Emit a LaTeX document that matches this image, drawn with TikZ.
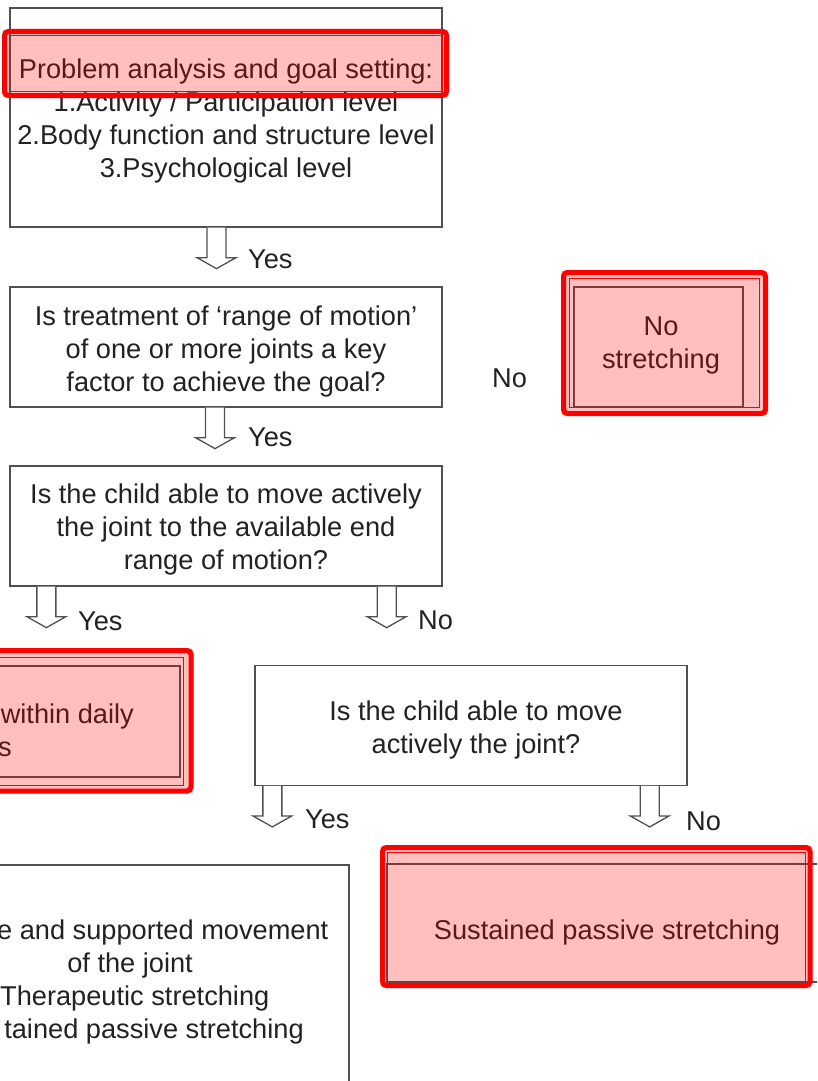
\documentclass[tikz,border=0pt]{standalone}
\usepackage{fontspec}
\setmainfont{Liberation Sans}
\usetikzlibrary{calc}
\definecolor{boxgray}{RGB}{80,80,80}
\definecolor{txtcol}{RGB}{34,34,34}
\newcommand\chartfont{\fontsize{27.2pt}{33pt}\selectfont}
\begin{document}
\begin{tikzpicture}[x=1pt,y=-1pt,
  box/.style={draw=boxgray, line width=1.3pt, fill=white, inner sep=0pt},
  txt/.style={inner sep=0pt, text=txtcol, font=\chartfont, align=center},
  lbl/.style={inner sep=0pt, text=txtcol, font=\chartfont, anchor=base west},
  downarrow/.pic={\filldraw[draw=boxgray, fill=white, line width=1.3pt, line join=miter]
    (-9.5,0) -- (-9.5,30) -- (-19.5,30) -- (0,41) -- (19.5,30) -- (9.5,30) -- (9.5,0);},
  hlfill/.style={fill=red, fill opacity=0.25},
  hlouter/.style={draw=red, line width=5pt, rounded corners=4pt},
  hlinner/.style={draw=red, line width=1pt}
]
\useasboundingbox (0,0) rectangle (817,1081);
\clip (0,0) rectangle (817,1081);

% decision boxes
\node[box, minimum width=432pt, minimum height=219pt] (goal) at (226,117.5) {};
\node[txt] (goaltxt) at ($(goal.center)+(0,3.5)$)
  {Problem analysis and goal setting:\\1.Activity / Participation level\\2.Body function and structure level\\3.Psychological level};
\node[box, minimum width=432pt, minimum height=120pt] (rom) at (226,347) {};
\node[txt] (romtxt) at ($(rom.center)+(0,4)$)
  {Is treatment of ‘range of motion’\\of one or more joints a key\\factor to achieve the goal?};
\node[box, minimum width=432pt, minimum height=120pt] (endrange) at (226,526) {};
\node[txt] (endrangetxt) at ($(endrange.center)+(0,3.5)$)
  {Is the child able to move actively\\the joint to the available end\\range of motion?};
\node[box, minimum width=432pt, minimum height=119.5pt] (active) at (471,725.5) {};
\node[txt] (activetxt) at ($(active.center)+(5,4)$)
  {Is the child able to move\\actively the joint?};

% outcome boxes
\node[box, minimum width=169pt, minimum height=120pt] (nostretch) at (658.5,347) {};
\node[txt] (nostretchtxt) at (661,345) {No\\stretching};
\node[box, minimum width=430pt, minimum height=111pt] (daily) at (-35,721.5) {};
\node[txt, anchor=base east] (dailya) at (134,723) {within daily};
\node[txt, anchor=base east] (dailyb) at (12,756) {s};
\node[box, minimum width=432pt, minimum height=240pt] (supported) at (133,985) {};
\node[txt, anchor=base east] (supa) at (328.5,939) {e and supported movement};
\node[txt, anchor=base east] (supb) at (193,972) {of the joint};
\node[txt, anchor=base west] (supc) at (0,1005) {Therapeutic stretching};
\node[txt, anchor=base] (supd) at (154,1038) {tained passive stretching};
\node[box, minimum width=432pt, minimum height=118pt] (sustained) at (603,923) {};
\node[txt] (sustainedtxt) at (607,932) {Sustained passive stretching};

% block arrows hanging below the boxes
\coordinate (a1) at ($(goal.south)+(-9.5,0)$);
\coordinate (a2) at ($(rom.south)+(-11,0)$);
\coordinate (a3) at ($(endrange.south west)+(37,0)$);
\coordinate (a4) at ($(endrange.south east)+(-56,0)$);
\coordinate (a5) at ($(active.south west)+(18,0)$);
\coordinate (a6) at ($(active.south east)+(-38,0)$);
\foreach \a in {a1,a2,a3,a4,a5,a6} \pic at (\a) {downarrow};

% branch labels
\node[lbl] (y1) at (248,268) {Yes};
\node[lbl] (y2) at (248,446) {Yes};
\node[lbl] (n2) at (492,387) {No};
\node[lbl] (y3) at (78,630) {Yes};
\node[lbl] (n3) at (418,629) {No};
\node[lbl] (y4) at (305,828) {Yes};
\node[lbl] (n4) at (686,830) {No};

% red highlight marks
\fill[hlfill, rounded corners=4pt] (2,29) rectangle (449,98);
\draw[hlouter] (4.5,31.5) rectangle (446.5,95.5);
\draw[hlinner] (9.5,36) rectangle (442,91);

\fill[hlfill, rounded corners=4pt] (561,270) rectangle (768,416);
\draw[hlouter] (563.5,272.5) rectangle (765.5,413.5);
\draw[hlinner] (569,278) rectangle (759.5,407.5);

\fill[hlfill, rounded corners=4pt] (-20,648) rectangle (193.5,793.5);
\draw[hlouter] (-17.5,650.5) rectangle (191,791);
\draw[hlinner] (-10,657) rectangle (183.5,785);

\fill[hlfill, rounded corners=4pt] (380,845) rectangle (812.5,988);
\draw[hlouter] (382.5,847.5) rectangle (810,985.5);
\draw[hlinner] (387,852.5) rectangle (805.5,981);
\end{tikzpicture}
\end{document}
